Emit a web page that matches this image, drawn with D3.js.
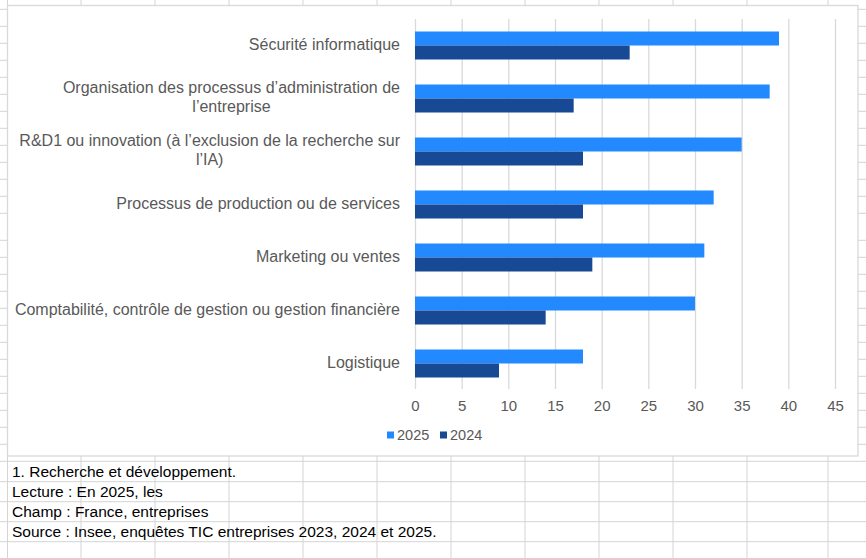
<!DOCTYPE html>
<html>
<head>
<meta charset="utf-8">
<script src="https://cdn.jsdelivr.net/npm/d3@7"></script>
<style>
  body { margin: 0; background: #fff; }
  text { font-family: "Liberation Sans", Arial, sans-serif; }
</style>
</head>
<body>
<div id="my_dataviz"></div>
<script>
// data
var categories = [
  "Sécurité informatique",
  "Organisation des processus d’administration de l’entreprise",
  "R&D1 ou innovation (à l’exclusion de la recherche sur l’IA)",
  "Processus de production ou de services",
  "Marketing ou ventes",
  "Comptabilité, contrôle de gestion ou gestion financière",
  "Logistique"
];
var series = ["2025", "2024"];
var values2025 = [39, 38, 35, 32, 31, 30, 18];
var values2024 = [23, 17, 18, 18, 19, 14, 9];
var xTicks = [0, 5, 10, 15, 20, 25, 30, 35, 40, 45];
var notes = [
  "1. Recherche et développement.",
  "Lecture : En 2025, les",
  "Champ : France, entreprises",
  "Source : Insee, enquêtes TIC entreprises 2023, 2024 et 2025."
];

var W = 866, H = 559;
var colors = { "2025": "#2389fe", "2024": "#174994" };
var gridColor = "#d4d4d4";

var svg = d3.select("#my_dataviz")
  .append("svg")
  .attr("width", W)
  .attr("height", H);

// spreadsheet cells behind the chart
var colLines = [7.5, 81, 155, 229, 303, 377, 451, 525, 599, 673, 747, 828];
var rowLines = [];
for (var yy = 9.3; yy < 230; yy += 17) rowLines.push(yy);
for (var yy2 = 444.3; yy2 > 230; yy2 -= 17) rowLines.push(yy2);
rowLines = rowLines.concat([461.3, 481.7, 501.7, 521.7, 541.7, 558.5]);

var sheet = svg.append("g").attr("class", "sheet");
sheet.selectAll(".col")
  .data(colLines)
  .enter().append("line")
  .attr("x1", function (d) { return d; })
  .attr("x2", function (d) { return d; })
  .attr("y1", 0)
  .attr("y2", H)
  .attr("stroke", gridColor);
sheet.selectAll(".row")
  .data(rowLines)
  .enter().append("line")
  .attr("x1", 0)
  .attr("x2", W)
  .attr("y1", function (d) { return d; })
  .attr("y2", function (d) { return d; })
  .attr("stroke", gridColor);

// footnotes in the cells
sheet.selectAll(".note")
  .data(notes)
  .enter().append("text")
  .attr("x", 12)
  .attr("y", function (d, i) { return 476.8 + i * 20.1; })
  .style("font-size", "15.5px")
  .attr("fill", "#000")
  .text(function (d) { return d; });

// chart box
svg.append("rect")
  .attr("x", 7.5)
  .attr("y", 5.5)
  .attr("width", 850.5)
  .attr("height", 450.5)
  .attr("fill", "#fff")
  .attr("stroke", "#d9d9d9")
  .attr("stroke-width", 1.3);

var x = d3.scaleLinear()
  .domain([0, 45])
  .range([415, 835]);

var y = d3.scaleBand()
  .domain(categories)
  .range([19, 390])
  .paddingInner(25 / 53)
  .paddingOuter(12.5 / 53);

var ySub = d3.scaleBand()
  .domain(series)
  .range([0, y.bandwidth()]);

// vertical gridlines
svg.append("g")
  .attr("class", "grid")
  .attr("transform", "translate(0,389)")
  .call(d3.axisBottom(x)
    .tickValues(xTicks)
    .tickSize(-370)
    .tickFormat("")
  )
  .call(function (g) { g.select(".domain").remove(); })
  .call(function (g) {
    g.selectAll(".tick line").attr("stroke", "#d9d9d9").attr("stroke-width", 1.3);
  });

// x tick labels
svg.append("g")
  .attr("transform", "translate(0,389)")
  .call(d3.axisBottom(x).tickValues(xTicks).tickSize(0).tickPadding(11))
  .call(function (g) { g.select(".domain").remove(); })
  .call(function (g) {
    g.selectAll(".tick text")
      .attr("fill", "#595959")
      .style("font-size", "15px")
      .style("font-family", "Liberation Sans, Arial, sans-serif");
  });

// bars
var rows = categories.map(function (c, i) {
  return { cat: c, "2025": values2025[i], "2024": values2024[i] };
});

var groups = svg.selectAll(".cat")
  .data(rows)
  .enter().append("g")
  .attr("transform", function (d) { return "translate(0," + y(d.cat) + ")"; });

groups.selectAll("rect")
  .data(function (d) { return series.map(function (s) { return { s: s, v: d[s] }; }); })
  .enter().append("rect")
  .attr("x", x(0))
  .attr("y", function (d) { return ySub(d.s); })
  .attr("width", function (d) { return x(d.v) - x(0); })
  .attr("height", ySub.bandwidth())
  .attr("fill", function (d) { return colors[d.s]; });

// category labels, wrapped like the spreadsheet does
var maxW = 392;
var labelSize = "16px";
var labels = svg.append("g");
categories.forEach(function (c) {
  var words = c.split(" ");
  var lines = [];
  var cur = "";
  var probe = labels.append("text").style("font-size", labelSize);
  words.forEach(function (w) {
    var test = cur ? cur + " " + w : w;
    probe.text(test);
    if (probe.node().getComputedTextLength() > maxW && cur) {
      lines.push(cur);
      cur = w;
    } else {
      cur = test;
    }
  });
  lines.push(cur);
  var blockW = 0;
  lines.forEach(function (l) {
    probe.text(l);
    blockW = Math.max(blockW, probe.node().getComputedTextLength());
  });
  probe.remove();

  var cy = y(c) + y.bandwidth() / 2 - 1.5;
  var lh = 19;
  var t = labels.append("text")
    .attr("text-anchor", "middle")
    .attr("fill", "#595959")
    .style("font-size", labelSize);
  lines.forEach(function (l, i) {
    t.append("tspan")
      .attr("x", 400 - blockW / 2)
      .attr("y", cy + (i - (lines.length - 1) / 2) * lh)
      .attr("dy", "0.35em")
      .text(l);
  });
});

// legend
var legend = svg.append("g").attr("transform", "translate(387,435)");
var legX = [0, 53];
series.forEach(function (s, i) {
  legend.append("rect")
    .attr("x", legX[i])
    .attr("y", -3.5)
    .attr("width", 7)
    .attr("height", 7)
    .attr("fill", colors[s]);
  legend.append("text")
    .attr("x", legX[i] + 10)
    .attr("y", 0)
    .attr("dy", "0.35em")
    .attr("fill", "#595959")
    .style("font-size", "14.5px")
    .text(s);
});
</script>
</body>
</html>
